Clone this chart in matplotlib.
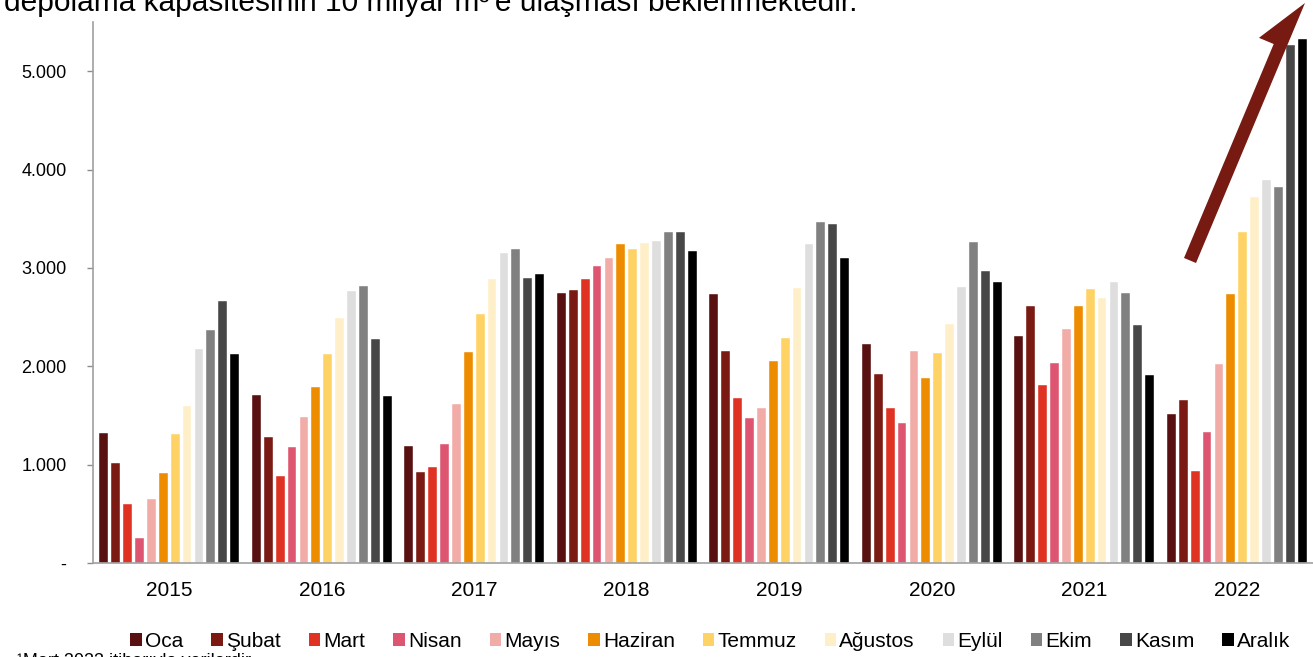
import matplotlib.pyplot as plt
from matplotlib.patches import Polygon, Patch
import numpy as np

plt.rcParams['font.family'] = ['Liberation Sans', 'DejaVu Sans']

years = ['2015', '2016', '2017', '2018', '2019', '2020', '2021', '2022']
months = ['Oca', 'Şubat', 'Mart', 'Nisan', 'Mayıs', 'Haziran',
          'Temmuz', 'Ağustos', 'Eylül', 'Ekim', 'Kasım', 'Aralık']
colors = ['#581010', '#7B1A12', '#E03222', '#DD5570', '#F2ACA8', '#EE8C00',
          '#FFD266', '#FFEFC8', '#DEDEDE', '#808080', '#474747', '#000000']

# one row per year, one value per month
v2015 = [1320, 1020, 600, 250, 650, 920, 1310, 1600, 2180, 2370, 2660, 2120]
v2016 = [1710, 1280, 880, 1180, 1480, 1790, 2120, 2490, 2770, 2820, 2280, 1700]
v2017 = [1190, 930, 980, 1210, 1620, 2150, 2530, 2890, 3150, 3190, 2900, 2940]
v2018 = [2750, 2780, 2890, 3020, 3100, 3240, 3190, 3250, 3270, 3360, 3360, 3170]
v2019 = [2730, 2160, 1680, 1470, 1580, 2050, 2290, 2800, 3240, 3470, 3450, 3100]
v2020 = [2230, 1920, 1580, 1420, 2160, 1880, 2140, 2430, 2810, 3260, 2970, 2860]
v2021 = [2310, 2610, 1810, 2030, 2380, 2610, 2790, 2690, 2860, 2740, 2420, 1910]
v2022 = [1510, 1660, 940, 1330, 2020, 2730, 3370, 3720, 3890, 3820, 5270, 5330]

data = np.array([v2015, v2016, v2017, v2018, v2019, v2020, v2021, v2022])

W, H = 1313, 657
fig = plt.figure(figsize=(W / 100, H / 100), dpi=100)
ax = fig.add_axes([93 / W, 94 / H, 1 - 93 / W, (563 - 22) / H])

x = np.arange(len(years))
step = 0.078
for m in range(len(months)):
    ax.bar(x + (m - 5.5) * step, data[:, m], width=step * 0.74,
           color=colors[m], edgecolor='white', linewidth=0.3, zorder=2)

ax.set_xlim(-0.5, 7.5)
ax.set_ylim(0, 5500)
ax.set_yticks([0, 1000, 2000, 3000, 4000, 5000])
ax.set_yticklabels(['-', '1.000', '2.000', '3.000', '4.000', '5.000'])
ax.set_xticks(x)
ax.set_xticklabels(years)
ax.tick_params(axis='x', length=0, pad=13, labelsize=15)
ax.tick_params(axis='y', length=4, width=1, color='#8c8c8c', pad=15, labelsize=13)
for s in ['top', 'right']:
    ax.spines[s].set_visible(False)
for s in ['left', 'bottom']:
    ax.spines[s].set_color('#a0a0a0')
    ax.spines[s].set_linewidth(1.2)

handles = [Patch(facecolor=c, edgecolor='none') for c in colors]
fig.legend(handles, months, ncol=12, loc='center', bbox_to_anchor=(0.541, 0.024),
           frameon=False, fontsize=15, handlelength=0.55, handleheight=0.55,
           handletextpad=0.15, columnspacing=1.35, borderaxespad=0)

# cut-off text above and below the chart
fig.text(4 / W, 1 - 11 / H, "depolama kapasitesinin 10 milyar m³'e ulaşması beklenmektedir.",
         fontsize=21.5, va='baseline', ha='left')
fig.text(17 / W, -9 / H, "¹Mart 2023 itibarıyla verilerdir.", fontsize=13,
         va='baseline', ha='left')

# half-headed arrow, built in pixels (y down) then moved to inches
r0 = np.array([1196.0, 263.0])
tip = np.array([1305.0, 3.0])
u = (tip - r0) / np.linalg.norm(tip - r0)
nl = np.array([u[1], -u[0]])
shaft, head_half, base = 13, 29, 232
pts = [r0, r0 + shaft * nl, r0 + base * u + shaft * nl, r0 + base * u + head_half * nl, tip]
pts_in = [(p[0] / 100, (H - p[1]) / 100) for p in pts]
fig.add_artist(Polygon(pts_in, closed=True, facecolor='#761A12', edgecolor='none',
                       transform=fig.dpi_scale_trans, zorder=5))

fig.savefig('out.png', dpi=100)
